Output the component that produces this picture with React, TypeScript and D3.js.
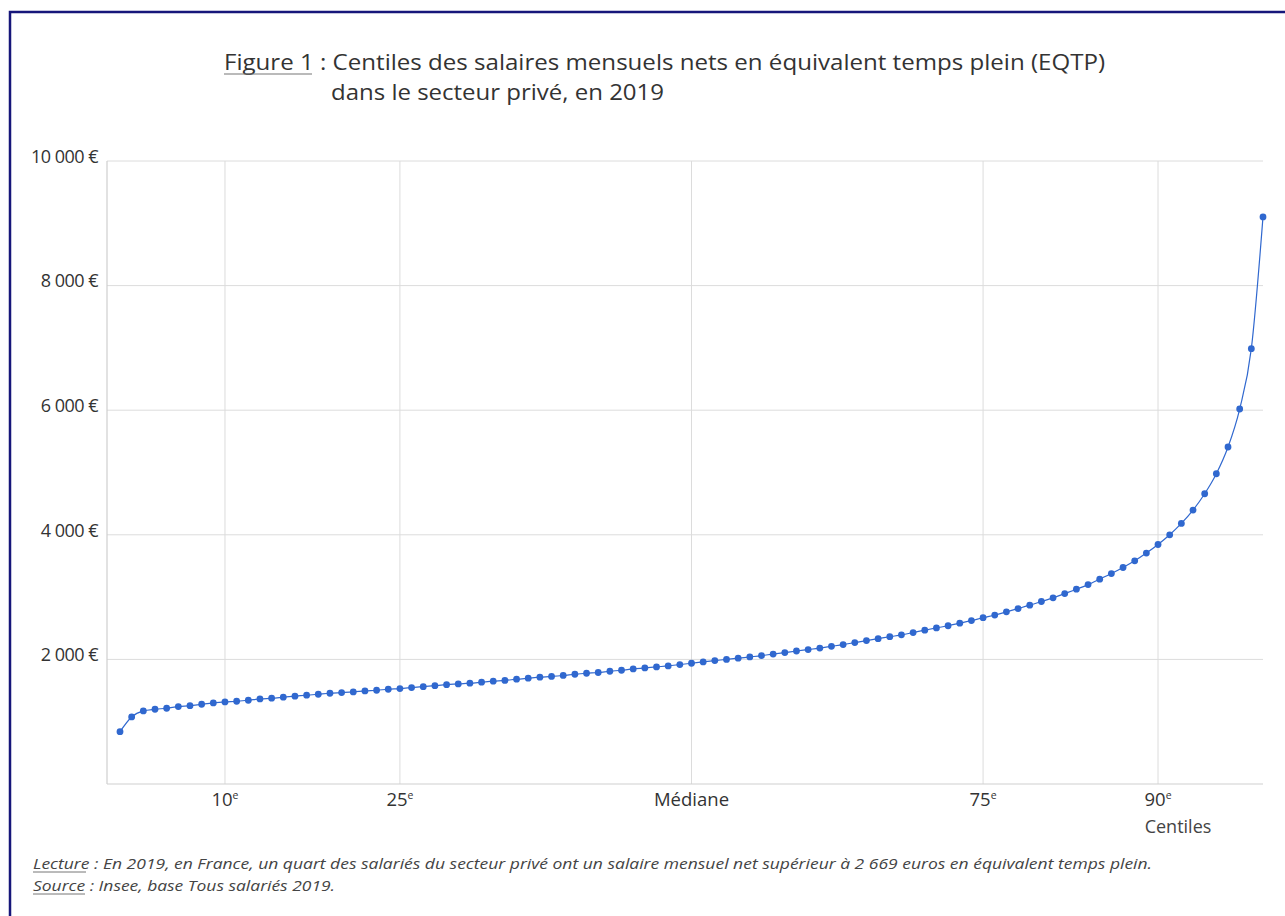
import React from "react";
import * as d3 from "d3";

const centiles: number[] = d3.range(1, 100);
const salaries: number[] = [
  840, 1076, 1173, 1200, 1216, 1242, 1258, 1280, 1301, 1317,
  1328, 1344, 1365, 1377, 1393, 1409, 1425, 1441, 1457, 1467,
  1478, 1494, 1505, 1521, 1531, 1547, 1563, 1579, 1595, 1606,
  1618, 1634, 1650, 1662, 1682, 1698, 1714, 1726, 1742, 1762,
  1778, 1790, 1810, 1826, 1847, 1863, 1880, 1896, 1917, 1938,
  1960, 1981, 1999, 2019, 2040, 2061, 2086, 2109, 2135, 2158,
  2182, 2210, 2238, 2270, 2302, 2332, 2364, 2394, 2431, 2469,
  2506, 2540, 2581, 2623, 2669, 2712, 2763, 2816, 2870, 2929,
  2988, 3057, 3127, 3201, 3288, 3378, 3475, 3582, 3706, 3844,
  4000, 4182, 4397, 4659, 4980, 5409, 6019, 6988, 9103,
];
const yTicks: number[] = [2000, 4000, 6000, 8000, 10000];
const xTicks: number[] = [10, 25, 50, 75, 90];
const xTickLabels: { main: string; sup: string }[] = [
  { main: "10", sup: "e" },
  { main: "25", sup: "e" },
  { main: "Médiane", sup: "" },
  { main: "75", sup: "e" },
  { main: "90", sup: "e" },
];

const W = 1285;
const H = 916;
const plot = { left: 107, right: 1263, top: 161, bottom: 784 };

const FONT = "'Open Sans', 'Noto Sans', sans-serif";

export default function App() {
  const x = d3.scaleLinear().domain([1, 99]).range([120, 1263]);
  const y = d3.scaleLinear().domain([0, 10000]).range([plot.bottom, plot.top]);
  const pts: [number, number][] = centiles.map((c, i) => [x(c), y(salaries[i])]);
  const line = d3.line().curve(d3.curveMonotoneX)(pts) || "";
  const fmt = (v: number) => d3.format(",")(v).replace(/,/g, " ") + " €";
  const blue = "#3068cf";
  const grid = "#dcdcdc";

  return (
    <svg
      width={W}
      height={H}
      style={{ position: "absolute", left: 0, top: 0, display: "block", background: "#fff" }}
      fontFamily={FONT}
    >
      <rect x={10} y={12} width={1320} height={1000} fill="#fff" stroke="#16167a" strokeWidth={2.5} />

      {/* Title */}
      <text x={224} y={70} fontSize={22} fill="#333" textLength={881} lengthAdjust="spacingAndGlyphs">
        Figure 1 : Centiles des salaires mensuels nets en équivalent temps plein (EQTP)
      </text>
      <line x1={224} x2={312} y1={74} y2={74} stroke="#777" strokeWidth={1.2} />
      <text x={331} y={100} fontSize={22} fill="#333" textLength={333} lengthAdjust="spacingAndGlyphs">
        dans le secteur privé, en 2019
      </text>

      {/* grid */}
      {yTicks.map((t) => (
        <line key={"h" + t} x1={plot.left} x2={plot.right} y1={y(t)} y2={y(t)} stroke={grid} strokeWidth={1} />
      ))}
      {xTicks.map((t) => (
        <line key={"v" + t} x1={x(t)} x2={x(t)} y1={plot.top} y2={plot.bottom} stroke={grid} strokeWidth={1} />
      ))}
      <line x1={plot.left} x2={plot.left} y1={plot.top} y2={plot.bottom} stroke="#cfcfcf" strokeWidth={1.2} />
      <line x1={plot.left} x2={plot.right} y1={plot.bottom} y2={plot.bottom} stroke="#cfcfcf" strokeWidth={1.2} />

      {/* y labels */}
      {yTicks.map((t) => (
        <text key={"yl" + t} x={98} y={y(t) - 3} fontSize={18} fill="#333" textAnchor="end" dominantBaseline="middle" letterSpacing={-0.5}>
          {fmt(t)}
        </text>
      ))}

      {/* x labels */}
      {xTicks.map((t, i) => (
        <text key={"xl" + t} x={x(t)} y={806} fontSize={18.5} fill="#333" textAnchor="middle">
          {xTickLabels[i].main}
          {xTickLabels[i].sup && (
            <tspan fontSize={10.5} dy={-7}>
              {xTickLabels[i].sup}
            </tspan>
          )}
        </text>
      ))}
      <text x={1178} y={833} fontSize={18} fill="#444" textAnchor="middle">
        Centiles
      </text>

      {/* series */}
      <path d={line} fill="none" stroke={blue} strokeWidth={1.2} />
      {pts.map((p, i) => (
        <circle key={"p" + i} cx={p[0]} cy={p[1]} r={3.4} fill={blue} />
      ))}

      {/* footer */}
      <text x={33} y={869} fontSize={15} fontStyle="italic" fill="#444" textLength={1119} lengthAdjust="spacingAndGlyphs">
        Lecture : En 2019, en France, un quart des salariés du secteur privé ont un salaire mensuel net supérieur à 2 669 euros en équivalent temps plein.
      </text>
      <text x={33} y={891} fontSize={15} fontStyle="italic" fill="#444" textLength={302} lengthAdjust="spacingAndGlyphs">
        Source : Insee, base Tous salariés 2019.
      </text>
      <line x1={33} x2={86} y1={872} y2={872} stroke="#777" strokeWidth={1} />
      <line x1={33} x2={85} y1={894} y2={894} stroke="#777" strokeWidth={1} />
    </svg>
  );
}
